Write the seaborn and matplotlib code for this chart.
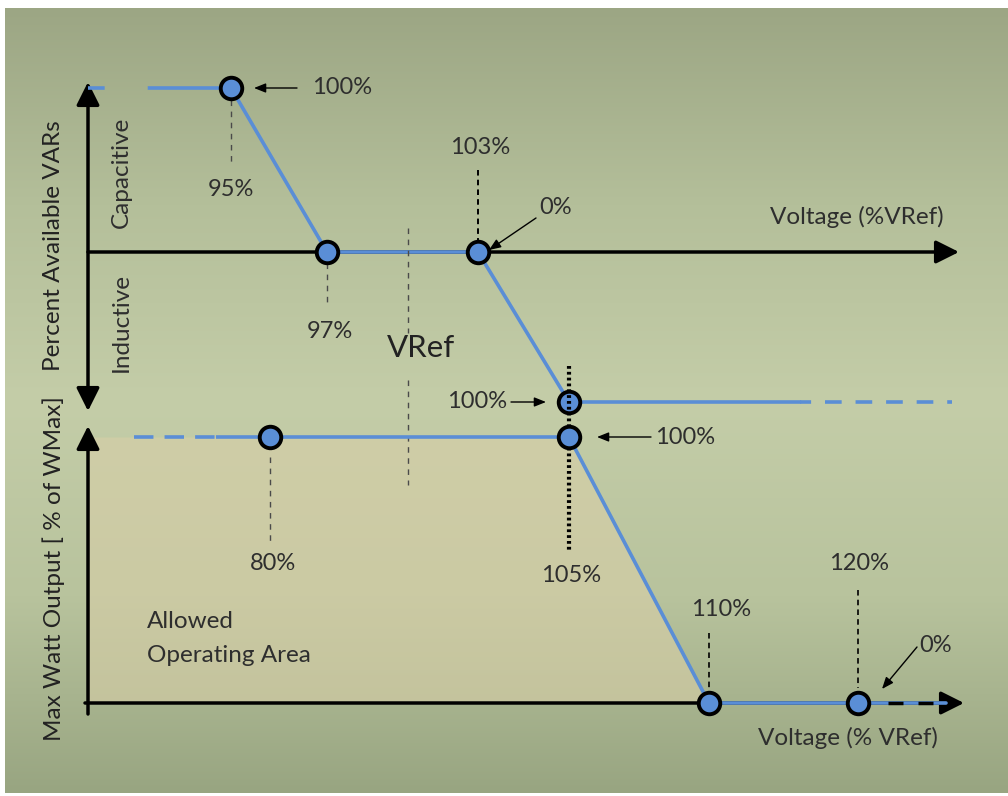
import numpy as np
import matplotlib
matplotlib.use('Agg')
import matplotlib.pyplot as plt
from matplotlib.transforms import blended_transform_factory
import seaborn as sns

# Volt-VAR curve (top) and Volt-Watt curve (bottom), voltages in % of VRef
var_voltage = [95, 97, 103, 105]
var_percent = [100, 0, 0, -100]
var_lead = [90, 95]            # dashed lead-in from the axis
var_tail = [105, 110, 112]     # solid then dashed continuation

watt_voltage = [80, 105, 110, 120]
watt_percent = [100, 100, 0, 0]
watt_lead = [72.5, 80]
watt_tail = [120, 124.8]
watt_origin = 70

BLUE = '#5a8ed6'
TXT = '#2e2e2e'

sns.set_theme(style='white')
plt.rcParams['font.family'] = ['Lato', 'DejaVu Sans']
plt.rcParams['lines.scale_dashes'] = False

W, H = 1008, 796
fig = plt.figure(figsize=(W / 100, H / 100), dpi=100)
fig.patch.set_facecolor('white')


def px_box(x0, x1, y0, y1):
    # pixel box (y measured from top) -> figure fraction rect
    return [x0 / W, (H - y1) / H, (x1 - x0) / W, (y1 - y0) / H]


def knots(vals, pos):
    return (lambda v: np.interp(v, vals, pos), lambda p: np.interp(p, pos, vals))


# background gradient
bg = fig.add_axes([0, 0, 1, 1], zorder=0)
bg.set_xlim(0, W)
bg.set_ylim(H, 0)
bg.axis('off')
stops = np.array([[156, 166, 132], [180, 191, 154], [196, 205, 168],
                  [184, 195, 157], [152, 165, 129]]) / 255
rows = np.linspace(0, 1, 400)
grad = np.stack([np.interp(rows, np.linspace(0, 1, len(stops)), stops[:, c]) for c in range(3)], axis=-1)
bg.imshow(grad[:, None, :], extent=(5, W, 793, 8), aspect='auto', interpolation='bicubic')

# overlay in pixel coordinates for labels and pointers
ov = fig.add_axes([0, 0, 1, 1], zorder=3)
ov.set_xlim(0, W)
ov.set_ylim(H, 0)
ov.axis('off')

# ---- top panel: volt-var ----
ax_var = fig.add_axes(px_box(88, 952, 88, 402), zorder=1)
sns.lineplot(x=var_lead, y=[var_percent[0]] * 2, ax=ax_var, color=BLUE, lw=2.6, clip_on=False,
             linestyle=(0, (12, 31, 200, 1)), zorder=3)
sns.lineplot(x=var_voltage, y=var_percent, ax=ax_var, color=BLUE, lw=2.6, clip_on=False,
             sort=False, estimator=None, zorder=3)
sns.lineplot(x=var_tail[:2], y=[var_percent[-1]] * 2, ax=ax_var, color=BLUE, lw=2.6, clip_on=False, zorder=3)
sns.lineplot(x=var_tail[1:], y=[var_percent[-1]] * 2, ax=ax_var, color=BLUE, lw=2.6, clip_on=False,
             linestyle=(4, (12, 10)), zorder=3)
sns.scatterplot(x=var_voltage, y=var_percent, ax=ax_var, s=240, color=BLUE, edgecolor='black',
                linewidth=2.8, zorder=4, clip_on=False)
ax_var.set_xscale('function', functions=knots([90, 95, 97, 100, 103, 105, 110, 112],
                                              [88, 231, 327, 408, 478, 569, 800, 952]))
ax_var.set_yscale('function', functions=knots([-100, 0, 100], [394, 544, 708]))
ax_var.set_xlim(90, 112)
ax_var.set_ylim(-100, 100)
ax_var.axis('off')

big_head = dict(arrowstyle='-|>,head_length=14,head_width=7', mutation_scale=1,
                lw=2.5, color='black', shrinkA=0, shrinkB=0)
ax_var.annotate('', xy=(959, 252), xytext=(88, 252), xycoords=ov.transData,
                textcoords=ov.transData, arrowprops=big_head, zorder=2, annotation_clip=False)
ax_var.annotate('', xy=(88, 82), xytext=(88, 411), xycoords=ov.transData, textcoords=ov.transData,
                arrowprops=dict(big_head, arrowstyle='<|-|>,head_length=14,head_width=7'),
                zorder=2, annotation_clip=False)

tv = blended_transform_factory(ax_var.transData, ov.transData)
guide = dict(color='#4a4a4a', lw=1.0, linestyle=(0, (4, 4)), clip_on=False)
ax_var.plot([95, 95], [100, 166], transform=tv, **guide)
ax_var.plot([97, 97], [263, 305], transform=tv, **guide)
ax_var.plot([103, 103], [170, 240], transform=tv, color='black', lw=1.4,
            linestyle=(0, (4, 3)), clip_on=False)

# ---- bottom panel: volt-watt ----
ax_w = fig.add_axes(px_box(88, 950, 437, 703), zorder=2)
ax_w.fill_between(np.r_[watt_origin, watt_voltage[:3]], np.r_[watt_percent[0], watt_percent[:3]], 0,
                  color='#d8cfa8', alpha=0.6, lw=0, zorder=0.5)
sns.lineplot(x=watt_lead, y=[watt_percent[0]] * 2, ax=ax_w, color=BLUE, lw=2.6, clip_on=False,
             linestyle=(0, (14, 8, 14, 8, 14, 1, 300, 1)), zorder=3)
sns.lineplot(x=watt_voltage, y=watt_percent, ax=ax_w, color=BLUE, lw=2.6, clip_on=False,
             sort=False, estimator=None, zorder=3)
sns.lineplot(x=watt_tail, y=[watt_percent[-1]] * 2, ax=ax_w, color=BLUE, lw=2.6, clip_on=False, zorder=3)
sns.scatterplot(x=watt_voltage, y=watt_percent, ax=ax_w, s=240, color=BLUE, edgecolor='black',
                linewidth=2.8, zorder=4, clip_on=False)
ax_w.set_xscale('function', functions=knots([70, 80, 105, 110, 120, 125],
                                            [88, 270, 569, 709, 858, 950]))
ax_w.set_xlim(70, 125)
ax_w.set_ylim(0, 100)
ax_w.axis('off')

ax_w.annotate('', xy=(964, 703), xytext=(85, 703), xycoords=ov.transData,
              textcoords=ov.transData, arrowprops=big_head, zorder=2, annotation_clip=False)
ax_w.annotate('', xy=(88, 426), xytext=(88, 714), xycoords=ov.transData,
              textcoords=ov.transData, arrowprops=big_head, zorder=2, annotation_clip=False)

tw = blended_transform_factory(ax_w.transData, ov.transData)
ax_w.plot([80, 80], [457, 542], transform=tw, **guide)
ax_w.plot([110, 110], [633, 688], transform=tw, color='black', lw=1.2, linestyle=(0, (4, 3)), clip_on=False)
ax_w.plot([120, 120], [590, 688], transform=tw, color='black', lw=1.2, linestyle=(0, (4, 3)), clip_on=False)
ax_w.plot([105, 105], [366, 552], transform=tw, color='black', lw=3, linestyle=(0, (2, 2.2)),
          clip_on=False, zorder=2)
# VRef guide, shared by both panels
ax_w.plot([100, 100], [228, 333], transform=tv, **guide)
ax_w.plot([100, 100], [380, 485], transform=tv, **guide)

# black dashes on the end of the lower voltage axis
ov.plot([888, 933], [703, 703], color='black', lw=2.5, linestyle=(0, (10.8, 10.8)))

# ---- labels and pointers ----
small = dict(arrowstyle='-|>,head_length=7,head_width=2.8', mutation_scale=1, lw=1.0,
             color='black', shrinkA=0, shrinkB=0)
for tail, head in [((297, 88), (254, 88)), ((511, 402), (546, 402)), ((651, 437), (597, 437)),
                   ((536, 218), (489, 250)), ((917, 647), (882, 689))]:
    ov.annotate('', xy=head, xytext=tail, arrowprops=small)

fs = 17
labels = [('100%', 312, 88, 'left'), ('95%', 231, 190, 'center'), ('97%', 330, 331, 'center'),
          ('103%', 480, 148, 'center'), ('0%', 556, 207, 'center'), ('100%', 507, 402, 'right'),
          ('100%', 655, 437, 'left'), ('80%', 273, 563, 'center'), ('105%', 571, 575, 'center'),
          ('110%', 721, 610, 'center'), ('120%', 859, 563, 'center'), ('0%', 936, 645, 'center')]
for s, x, y, ha in labels:
    ov.text(x, y, s, fontsize=fs, color=TXT, ha=ha, va='center')

ov.text(857, 217, 'Voltage (%VRef)', fontsize=17.5, color=TXT, ha='center', va='center')
ov.text(848, 738, 'Voltage (% VRef)', fontsize=17.5, color=TXT, ha='center', va='center')
ov.text(421, 348, 'VRef', fontsize=22.5, color='#222222', ha='center', va='center')
ov.text(147, 622, 'Allowed', fontsize=17.5, color=TXT, ha='left', va='center')
ov.text(147, 655, 'Operating Area', fontsize=17.5, color=TXT, ha='left', va='center')
ov.text(54, 246, 'Percent Available VARs', fontsize=17.5, color='#222222', ha='center',
        va='center', rotation=90)
ov.text(54, 569, 'Max Watt Output [ % of WMax]', fontsize=17.5, color='#222222', ha='center',
        va='center', rotation=90)
ov.text(121, 172, 'Capacitive', fontsize=17.5, color=TXT, ha='center', va='center', rotation=90)
ov.text(121, 323, 'Inductive', fontsize=17.5, color=TXT, ha='center', va='center', rotation=90)

fig.savefig('out.png', dpi=100)
